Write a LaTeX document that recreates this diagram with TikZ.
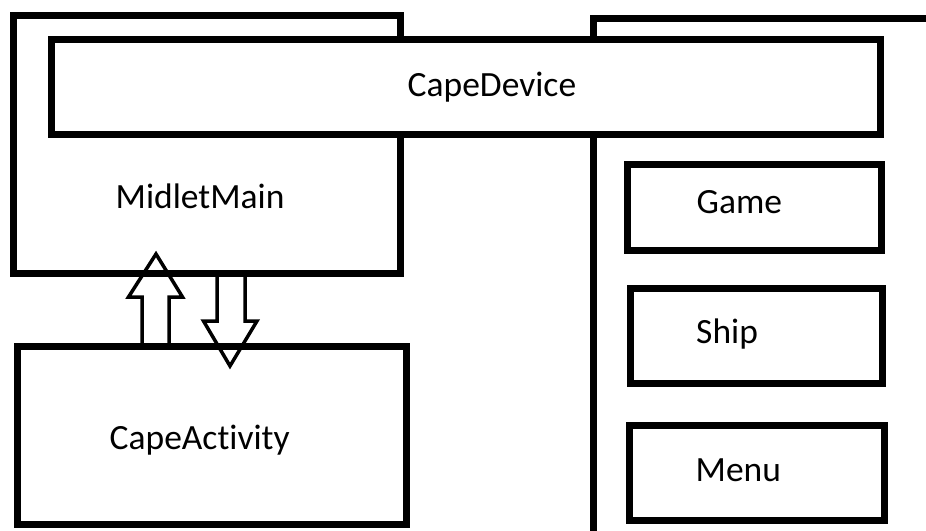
\documentclass[tikz,border=0pt]{standalone}
\usepackage{fontspec}
\setmainfont{Carlito}[Ligatures=NoCommon]
\begin{document}
\begin{tikzpicture}[x=1pt,y=-1pt,
  box/.style={draw=black,line width=7pt,rectangle,inner sep=0pt,line join=miter},
  lbl/.style={inner sep=0pt,anchor=base west,font=\fontsize{35.5}{42}\selectfont},
  blockarrow/.style={draw=black,line width=3.5pt,line join=miter}]
\useasboundingbox (0,0) rectangle (926,530);
\clip (0,0) rectangle (926,530);
% right-hand panel running off the page
\node[box,minimum width=367pt,minimum height=542pt] (panel) at (776.5,289) {};
% MIDlet main box
\node[box,minimum width=387.3pt,minimum height=258.7pt] (midlet) at (206.65,144.35) {};
% device bar lying across both
\node[box,fill=white,minimum width=828.5pt,minimum height=95pt] (device) at (465.75,87) {};
% screens inside the panel
\node[box,minimum width=253.5pt,minimum height=85.8pt] (game) at (754.25,207.6) {};
\node[box,minimum width=251.3pt,minimum height=95pt] (ship) at (756.35,335.5) {};
\node[box,minimum width=255pt,minimum height=94.5pt] (menu) at (757,472.75) {};
% activity box
\node[box,minimum width=389.5pt,minimum height=178pt] (activity) at (211.75,435.5) {};
% labels
\node[lbl] (devicelbl) at (407.5,96.7) {CapeDevice};
\node[lbl] (midletlbl) at (115.5,208.3) {MidletMain};
\node[lbl] (gamelbl) at (696.5,213.3) {Game};
\node[lbl] (shiplbl) at (696,343.3) {Ship};
\node[lbl] (menulbl) at (695.5,481.7) {Menu};
\node[lbl] (activitylbl) at (109.5,449.3) {CapeActivity};
% block arrows between activity and midlet
\draw[blockarrow] (142,0 |- activity.north) -- (142,297) -- (128.5,297) -- (156,254)
  -- (182.5,297) -- (169,297) -- (169,0 |- activity.north);
\draw[blockarrow] (217,0 |- midlet.south) -- (217,321) -- (203.5,321) -- (230,366)
  -- (257,321) -- (245,321) -- (245,0 |- midlet.south);
\end{tikzpicture}
\end{document}
